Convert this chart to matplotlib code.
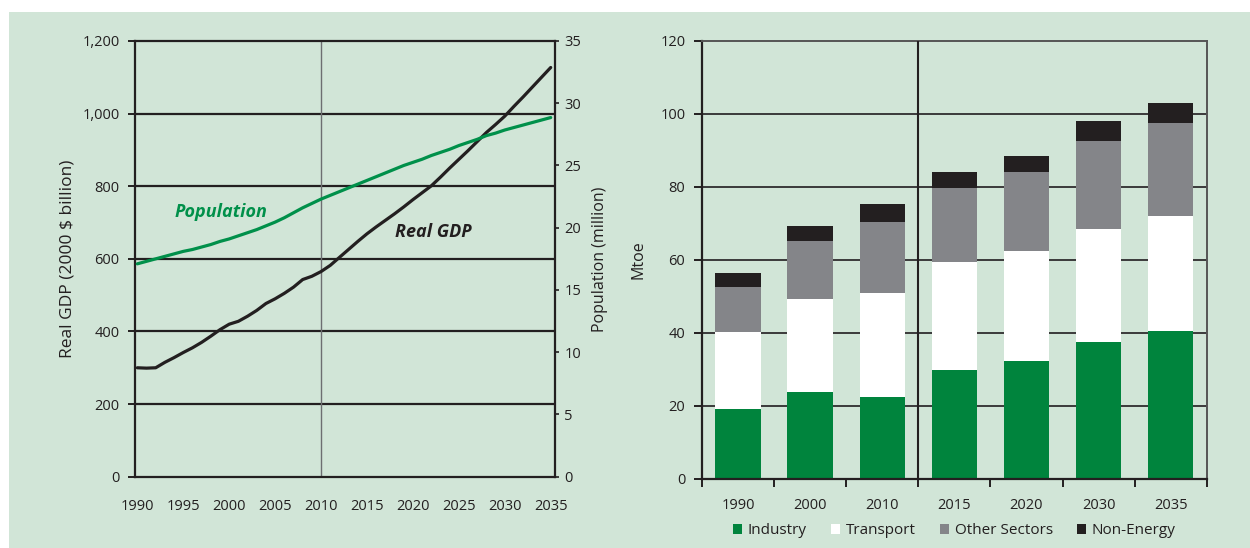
import matplotlib
matplotlib.use("Agg")
import matplotlib.pyplot as plt
from matplotlib.patches import Rectangle, Patch
import numpy as np

plt.rcParams['font.family'] = ['Open Sans', 'DejaVu Sans']

# ---------------- data ----------------
years = list(range(1990, 2036))
gdp = [300, 299, 300, 315, 328, 342, 355, 370, 387, 405,
       420, 428, 442, 458, 477, 490, 505, 522, 543, 552,
       565, 582, 604, 626, 648, 669, 688, 706, 724, 743,
       763, 782, 801, 825, 850, 874, 898, 923, 948, 970,
       993, 1020, 1046, 1073, 1100, 1127]
population = [17.1, 17.3, 17.5, 17.7, 17.9, 18.1, 18.25, 18.45, 18.65, 18.9,
              19.1, 19.35, 19.6, 19.85, 20.15, 20.45, 20.8, 21.2, 21.6, 21.95,
              22.3, 22.6, 22.9, 23.2, 23.5, 23.8, 24.1, 24.4, 24.7, 25.0,
              25.25, 25.5, 25.8, 26.05, 26.3, 26.6, 26.85, 27.1, 27.4, 27.6,
              27.85, 28.05, 28.25, 28.45, 28.65, 28.85]
gdp_ticks = [0, 200, 400, 600, 800, 1000, 1200]
gdp_ticklabels = ['0', '200', '400', '600', '800', '1,000', '1,200']
pop_ticks = [0, 5, 10, 15, 20, 25, 30, 35]
year_ticks = [1990, 1995, 2000, 2005, 2010, 2015, 2020, 2025, 2030, 2035]

bar_years = ['1990', '2000', '2010', '2015', '2020', '2030', '2035']
industry = [19.2, 23.7, 22.3, 29.9, 32.4, 37.4, 40.4]
transport = [21.0, 25.6, 28.7, 29.4, 30.0, 31.1, 31.5]
other_sectors = [12.4, 15.8, 19.3, 20.5, 21.7, 24.2, 25.5]
non_energy = [3.8, 4.3, 4.9, 4.2, 4.4, 5.3, 5.5]
mtoe_ticks = [0, 20, 40, 60, 80, 100, 120]

# ---------------- style ----------------
BG = '#d1e5d7'
DARK = '#231f20'
GREEN = '#00843d'
LINE_GREEN = '#00904a'
GREY = '#848589'
FS = 10.5

fig = plt.figure(figsize=(12.5, 5.48), dpi=100, facecolor='white')
fig.patches.append(Rectangle((9 / 1250, 0), 1, 1 - 12 / 548, transform=fig.transFigure,
                             facecolor=BG, edgecolor='none', zorder=-10))

# ---------------- left chart ----------------
ax = fig.add_axes([0.1078, 0.1301, 0.336, 0.7951])
ax.set_facecolor(BG)
ax.set_xlim(1989.72, 2035.44)
ax.set_ylim(0, 1200)
for y in gdp_ticks[1:-1]:
    ax.axhline(y, color=DARK, lw=1.6, zorder=1)
ax.axvline(2010, color='#6d6e71', lw=1.0, zorder=1)
for s in ax.spines.values():
    s.set_color(DARK)
    s.set_linewidth(1.6)
ax.set_yticks(gdp_ticks)
ax.set_yticklabels(gdp_ticklabels)
ax.set_xticks(year_ticks)
ax.tick_params(axis='x', length=0, pad=16, labelsize=FS, colors=DARK)
ax.tick_params(axis='y', length=5, width=1.4, pad=6, labelsize=FS, colors=DARK)
ax.set_ylabel('Real GDP (2000 $ billion)', fontsize=12.5, color=DARK, labelpad=5)
ax.plot(years, gdp, color=DARK, lw=2.3, zorder=4, solid_capstyle='round')

ax2 = ax.twinx()
ax2.set_ylim(0, 35)
ax2.set_yticks(pop_ticks)
ax2.tick_params(axis='y', length=3, width=1.2, pad=4, labelsize=FS, colors=DARK)
for s in ax2.spines.values():
    s.set_visible(False)
ax2.set_ylabel('Population (million)', fontsize=11.5, color=DARK, labelpad=8)
ax2.plot(years, population, color=LINE_GREEN, lw=2.3, zorder=4, solid_capstyle='round')

ax.text(1994.0, 730, 'Population', color=LINE_GREEN, fontsize=13, fontweight='bold',
        fontstyle='italic', va='center', ha='left', zorder=5)
ax.text(2018.05, 675, 'Real GDP', color=DARK, fontsize=13, fontweight='bold',
        fontstyle='italic', va='center', ha='left', zorder=5)

# ---------------- right chart ----------------
bx = fig.add_axes([0.5616, 0.1263, 0.4038, 0.7989])
bx.set_facecolor(BG)
x = np.arange(len(bar_years))
w = 0.63
bx.set_xlim(-0.5, len(bar_years) - 0.5)
bx.set_ylim(0, 120)
for y in mtoe_ticks[1:-1]:
    bx.axhline(y, color='#3a3a3a', lw=1.4, zorder=1)
b1 = np.array(industry)
b2 = b1 + np.array(transport)
b3 = b2 + np.array(other_sectors)
bx.bar(x, industry, w, color=GREEN, zorder=2)
bx.bar(x, transport, w, bottom=b1, color='white', zorder=2)
bx.bar(x, other_sectors, w, bottom=b2, color=GREY, zorder=2)
bx.bar(x, non_energy, w, bottom=b3, color=DARK, zorder=2)
bx.axvline(2.5, color=DARK, lw=1.5, zorder=3)
bx.spines['left'].set_color(DARK)
bx.spines['bottom'].set_color(DARK)
bx.spines['left'].set_linewidth(1.6)
bx.spines['bottom'].set_linewidth(1.6)
bx.spines['top'].set_color('#555555')
bx.spines['right'].set_color('#555555')
bx.spines['top'].set_linewidth(1.4)
bx.spines['right'].set_linewidth(1.4)
bx.set_yticks(mtoe_ticks)
bx.set_xticks(x)
bx.set_xticklabels(bar_years)
bx.set_xticks(np.arange(-0.5, len(bar_years)), minor=True)
bx.tick_params(axis='x', which='major', length=0, pad=14, labelsize=FS, colors=DARK)
bx.tick_params(axis='x', which='minor', length=6, width=1.4, color=DARK)
bx.tick_params(axis='y', length=6, width=1.4, pad=6, labelsize=FS, colors=DARK)
bx.set_ylabel('Mtoe', fontsize=11.5, color=DARK, labelpad=10)

handles = [Patch(facecolor=GREEN, edgecolor='none', label='Industry'),
           Patch(facecolor='white', edgecolor='none', label='Transport'),
           Patch(facecolor=GREY, edgecolor='none', label='Other Sectors'),
           Patch(facecolor=DARK, edgecolor='none', label='Non-Energy')]
fig.legend(handles=handles, loc='center', bbox_to_anchor=(0.7636, 0.0316), ncol=4,
           frameon=False, fontsize=FS + 0.5, handlelength=0.6, handleheight=0.6,
           handletextpad=0.35, columnspacing=1.6, labelcolor=DARK)

fig.savefig('out.png', dpi=100, facecolor='white')
